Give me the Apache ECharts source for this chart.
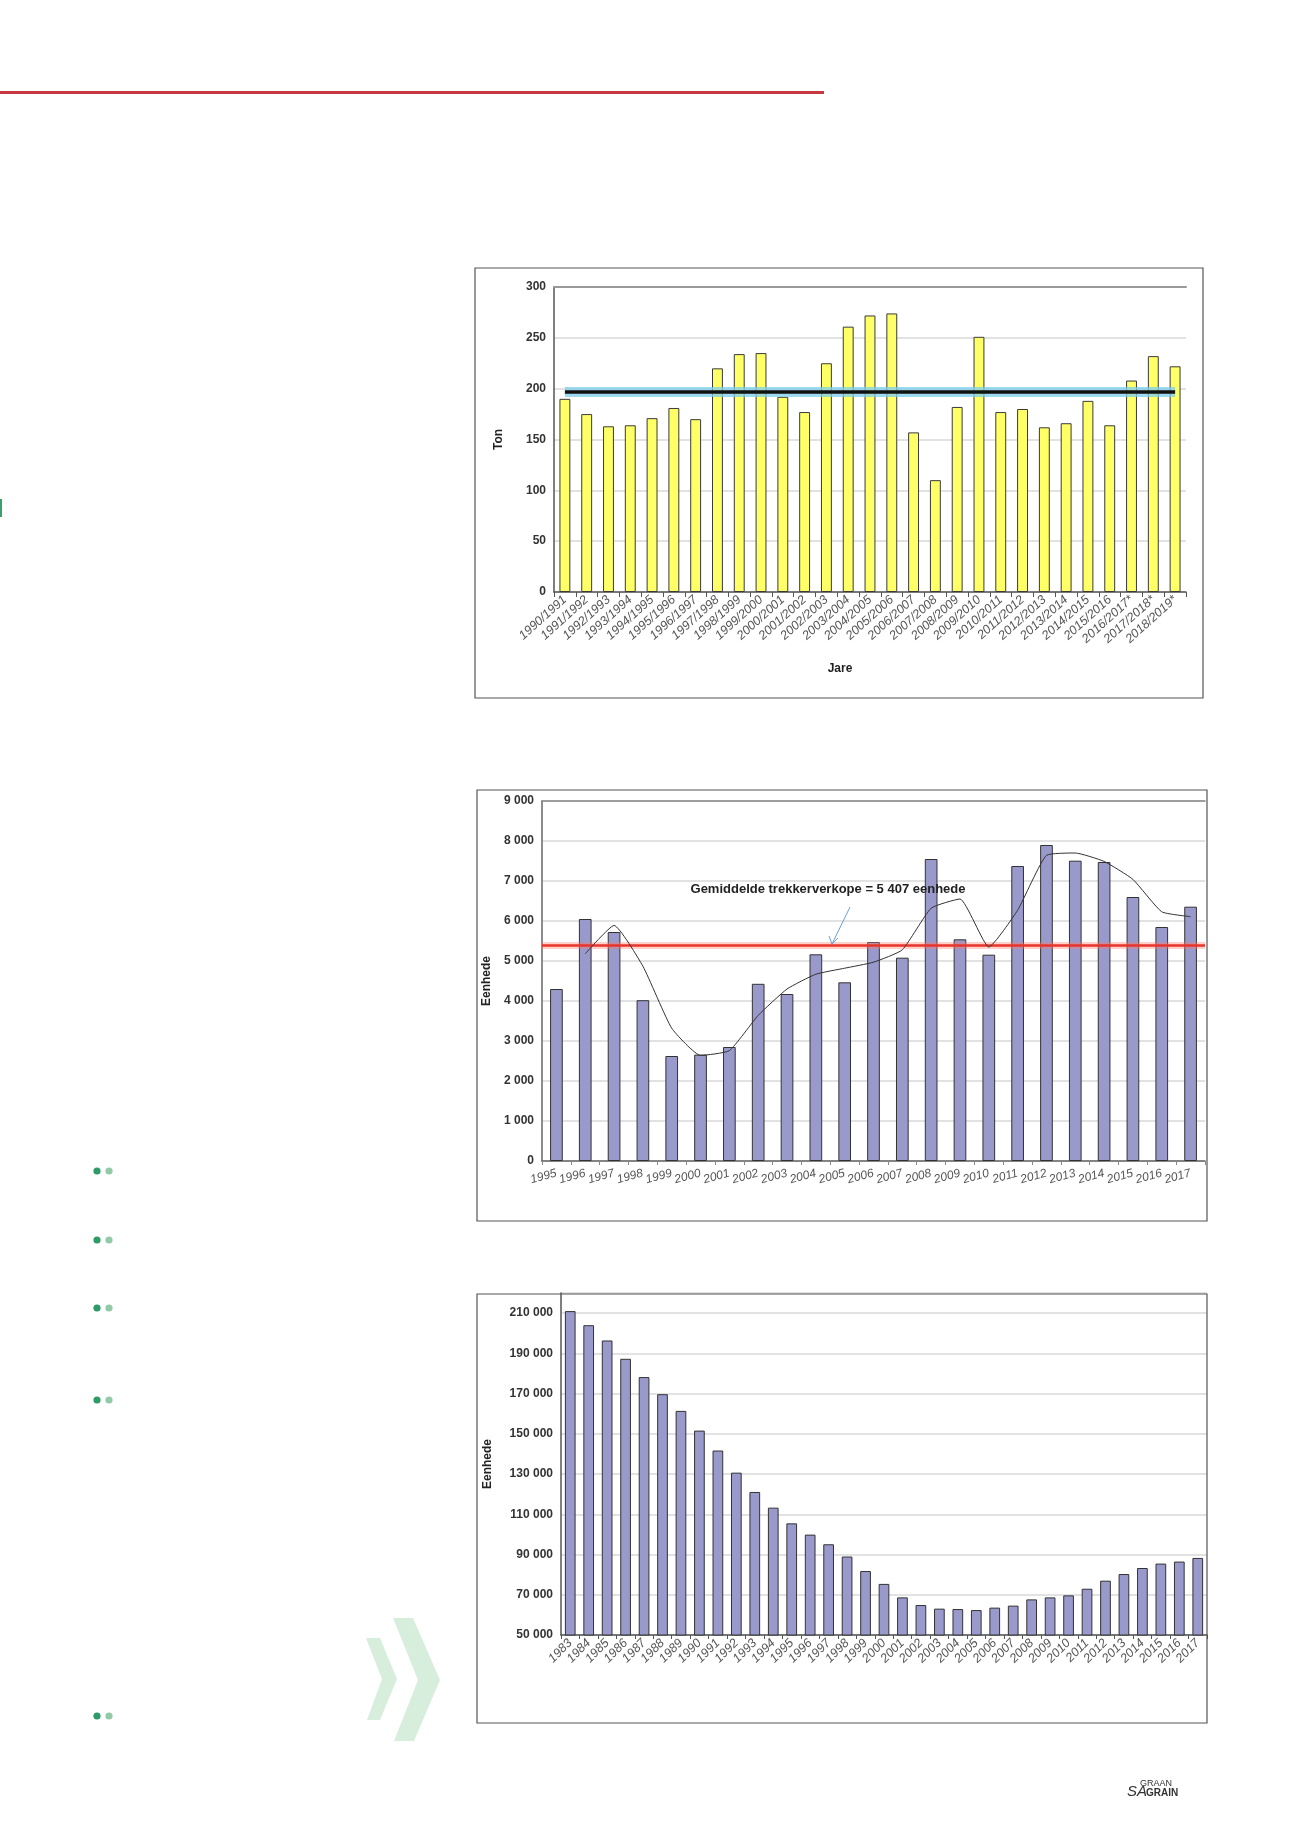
<!DOCTYPE html>
<html>
<head>
<meta charset="utf-8">
<script src="https://cdn.jsdelivr.net/npm/echarts/dist/echarts.min.js"></script>
<style>
html,body{margin:0;padding:0;background:#fff;}
#c{width:1300px;height:1839px;}
</style>
</head>
<body>
<div id="c"></div>
<script>
// ---------- Data ----------
const seasons = ['1990/1991','1991/1992','1992/1993','1993/1994','1994/1995','1995/1996','1996/1997','1997/1998','1998/1999','1999/2000','2000/2001','2001/2002','2002/2003','2003/2004','2004/2005','2005/2006','2006/2007','2007/2008','2008/2009','2009/2010','2010/2011','2011/2012','2012/2013','2013/2014','2014/2015','2015/2016','2016/2017*','2017/2018*','2018/2019*'];
const tonValues = [190,175,163,164,171,181,170,220,234,235,192,177,225,261,272,274,157,110,182,251,177,180,162,166,188,164,208,232,222];

const salesYears = ['1995','1996','1997','1998','1999','2000','2001','2002','2003','2004','2005','2006','2007','2008','2009','2010','2011','2012','2013','2014','2015','2016','2017'];
const salesValues = [4300,6050,5725,4020,2625,2660,2850,4430,4175,5167,4467,5475,5083,7550,5542,5158,7375,7900,7508,7475,6600,5850,6358];
const salesTrend = [null,5180,5890,4870,3320,2640,2760,3640,4300,4670,4820,4970,5280,6320,6550,5350,6270,7640,7700,7490,7040,6230,6110];
const salesAvgText = 'Gemiddelde trekkerverkope = 5 407 eenhede';

const fleetYears = ['1983','1984','1985','1986','1987','1988','1989','1990','1991','1992','1993','1994','1995','1996','1997','1998','1999','2000','2001','2002','2003','2004','2005','2006','2007','2008','2009','2010','2011','2012','2013','2014','2015','2016','2017'];
const fleetValues = [211000,204000,196400,187300,178200,169700,161400,151600,141700,130700,121100,113300,105500,99900,95100,89000,81800,75400,68700,64900,63100,62900,62400,63600,64600,67700,68700,69700,73000,77000,80300,83300,85500,86500,88300];

// ---------- Helpers ----------
const FF = '"Liberation Sans", Arial, sans-serif';
const spaced = v => String(v).replace(/\B(?=(\d{3})+(?!\d))/g, ' ');
const tonAvg = tonValues.reduce((a, b) => a + b, 0) / tonValues.length;

const chart = echarts.init(document.getElementById('c'), null, {renderer: 'canvas'});

const xLabel = (rot, size, margin) => ({rotate: rot, fontStyle: 'italic', color: '#555', fontSize: size, fontFamily: FF, margin: margin, interval: 0});
const yLabel = (fmt) => ({color: '#333', fontSize: 12, fontWeight: 'bold', fontFamily: FF, margin: 8, formatter: fmt});
const split = {show: true, lineStyle: {color: '#d9d9d9', width: 1.5}};
const nameStyle = {fontWeight: 'bold', fontSize: 12, color: '#222', fontFamily: FF};

const dots = [1171, 1240, 1308, 1400, 1716];
const graphics = [
  {type: 'rect', shape: {x: 0, y: 91, width: 824, height: 3}, style: {fill: '#c8363f'}},
  {type: 'rect', shape: {x: 0, y: 499, width: 2, height: 18}, style: {fill: '#3aa06e'}},
  {type: 'rect', shape: {x: 475, y: 268, width: 728, height: 430}, style: {fill: 'none', stroke: '#555', lineWidth: 1.2}, z: 10},
  {type: 'rect', shape: {x: 477, y: 790, width: 730, height: 431}, style: {fill: 'none', stroke: '#555', lineWidth: 1.2}, z: 10},
  {type: 'rect', shape: {x: 477, y: 1294, width: 730, height: 429}, style: {fill: 'none', stroke: '#555', lineWidth: 1.2}, z: 10},
  {type: 'polygon', shape: {points: [[366,1638],[380,1638],[397,1679],[380,1720],[367,1720],[382,1679]]}, style: {fill: '#d8eedd'}},
  {type: 'polygon', shape: {points: [[393,1618],[413,1618],[440,1680],[414,1741],[394,1741],[418,1680]]}, style: {fill: '#d8eedd'}},
  {type: 'text', style: {x: 1140, y: 1784, text: 'GRAAN', font: '9px "Liberation Sans", Arial', fill: '#333', textVerticalAlign: 'middle'}},
  {type: 'text', style: {x: 1127, y: 1792, text: 'SA', font: 'italic 15px "Liberation Sans", Arial', fill: '#333', textVerticalAlign: 'middle'}},
  {type: 'text', style: {x: 1146, y: 1793, text: 'GRAIN', font: 'bold 10px "Liberation Sans", Arial', fill: '#333', textVerticalAlign: 'middle'}},
  {type: 'text', style: {x: 828, y: 889, text: salesAvgText, font: 'bold 13px "Liberation Sans", Arial', fill: '#222', textAlign: 'center', textVerticalAlign: 'middle'}, z: 20},
  {type: 'line', shape: {x1: 850, y1: 907, x2: 832, y2: 944}, style: {stroke: '#6d9fd6', lineWidth: 1}, z: 20},
  {type: 'polyline', shape: {points: [[829, 936], [832, 944], [838, 938]]}, style: {stroke: '#6d9fd6', lineWidth: 1, fill: 'none'}, z: 20}
];
dots.forEach(y => {
  graphics.push({type: 'circle', shape: {cx: 97, cy: y, r: 3.6}, style: {fill: '#2e9a66'}});
  graphics.push({type: 'circle', shape: {cx: 109, cy: y, r: 3.6}, style: {fill: '#92c9a6'}});
});

const option = {
  backgroundColor: '#fff',
  animation: false,
  grid: [
    {left: 554, top: 287, width: 632, height: 305},
    {left: 542, top: 801, width: 663, height: 360},
    {left: 561, top: 1293, width: 646, height: 342}
  ],
  xAxis: [
    {type: 'category', gridIndex: 0, data: seasons,
     axisLine: {lineStyle: {color: '#555', width: 1.5}}, axisTick: {show: true, length: 5, lineStyle: {color: '#555'}},
     axisLabel: xLabel(42, 12.5, 6), name: 'Jare', nameLocation: 'middle', nameGap: 71,
     nameTextStyle: Object.assign({padding: [0, 60, 0, 0]}, nameStyle)},
    {type: 'category', gridIndex: 0, data: seasons, position: 'top',
     axisLine: {lineStyle: {color: '#999', width: 2}}, axisTick: {show: false}, axisLabel: {show: false}},
    {type: 'category', gridIndex: 1, data: salesYears,
     axisLine: {lineStyle: {color: '#666', width: 1.5}}, axisTick: {show: true, length: 4, lineStyle: {color: '#888'}},
     axisLabel: xLabel(15, 12, 12)},
    {type: 'category', gridIndex: 1, data: salesYears, position: 'top',
     axisLine: {lineStyle: {color: '#888', width: 1.5}}, axisTick: {show: false}, axisLabel: {show: false}},
    {type: 'category', gridIndex: 2, data: fleetYears,
     axisLine: {lineStyle: {color: '#555', width: 1.5}}, axisTick: {show: true, length: 4, lineStyle: {color: '#555'}},
     axisLabel: xLabel(45, 12.5, 6)}
  ],
  yAxis: [
    {type: 'value', gridIndex: 0, min: 0, max: 300, interval: 50,
     axisLine: {show: true, lineStyle: {color: '#555', width: 1.5}}, axisTick: {show: false},
     axisLabel: yLabel(v => v), splitLine: split,
     name: 'Ton', nameLocation: 'middle', nameGap: 49, nameTextStyle: nameStyle},
    {type: 'value', gridIndex: 1, min: 0, max: 9000, interval: 1000,
     axisLine: {show: true, lineStyle: {color: '#666', width: 1.5}}, axisTick: {show: false},
     axisLabel: yLabel(spaced), splitLine: split,
     name: 'Eenhede', nameLocation: 'middle', nameGap: 48, nameTextStyle: nameStyle},
    {type: 'value', gridIndex: 2, min: 50000, max: 220000, interval: 20000,
     axisLine: {show: true, lineStyle: {color: '#555', width: 1.5}}, axisTick: {show: false},
     axisLabel: Object.assign(yLabel(spaced), {showMaxLabel: false}), splitLine: split,
     name: 'Eenhede', nameLocation: 'middle', nameGap: 67, nameTextStyle: nameStyle}
  ],
  series: [
    {type: 'bar', xAxisIndex: 0, yAxisIndex: 0, data: tonValues, barWidth: '50%',
     itemStyle: {color: '#ffff66', borderColor: '#3a3a3a', borderWidth: 1},
     markLine: {silent: true, symbol: 'none', label: {show: false}, z: 5,
       data: [
         [{coord: [seasons[0], tonAvg], lineStyle: {color: 'rgba(125,205,235,0.75)', width: 10, type: 'solid'}}, {coord: [seasons[seasons.length - 1], tonAvg]}],
         [{coord: [seasons[0], tonAvg], lineStyle: {color: '#111', width: 3.5, type: 'solid'}}, {coord: [seasons[seasons.length - 1], tonAvg]}]
       ]}},
    {type: 'bar', xAxisIndex: 2, yAxisIndex: 1, data: salesValues, barWidth: '44%',
     itemStyle: {color: '#9999cc', borderColor: '#333', borderWidth: 1},
     markLine: {silent: true, symbol: 'none', label: {show: false}, z: 5,
       data: [
         {type: 'average', lineStyle: {color: 'rgba(255,120,100,0.35)', width: 7, type: 'solid'}},
         {type: 'average', lineStyle: {color: '#e8342a', width: 2.5, type: 'solid'}}
       ]}},
    {type: 'line', xAxisIndex: 2, yAxisIndex: 1, data: salesTrend, showSymbol: false, smooth: 0.15,
     connectNulls: false, lineStyle: {color: '#333', width: 1}, z: 6},
    {type: 'bar', xAxisIndex: 4, yAxisIndex: 2, data: fleetValues, barWidth: '58%',
     itemStyle: {color: '#9999cc', borderColor: '#333', borderWidth: 1}}
  ],
  graphic: graphics
};
chart.setOption(option);
</script>
</body>
</html>
